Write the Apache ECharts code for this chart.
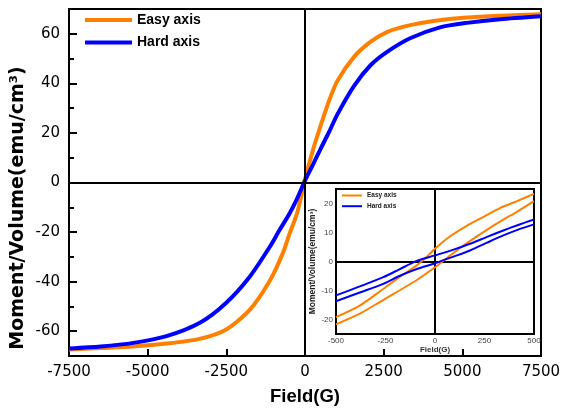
<!DOCTYPE html>
<html>
<head>
<meta charset="utf-8">
<script src="https://cdn.jsdelivr.net/npm/echarts@6/dist/echarts.min.js"></script>
<style>html,body{margin:0;padding:0;background:#fff}#c{width:564px;height:412px}</style>
</head>
<body>
<div id="c"></div>
<script>
// ---- Main plot data (Field in G, Moment/Volume in emu/cm^3) ----
const easyField  = [-7500,-6500,-5500,-4400,-3350,-2500,-1750,-1100,-700,-500,-250,0,250,500,750,1030,1560,2090,2620,3340,4080,5140,6200,7500];
const easyMoment = [-67.4,-66.8,-66.2,-65.0,-63.1,-59.3,-51.3,-39.2,-28.4,-21.0,-12.3,1.2,13.0,23.0,32.5,41.0,50.7,56.8,60.8,63.5,65.2,66.6,67.3,67.9];
const hardField  = [-7500,-6500,-5450,-4400,-3340,-2510,-1750,-1110,-800,-500,-250,0,250,500,750,1030,1560,2090,2620,3340,4290,5140,6200,7500];
const hardMoment = [-67.0,-66.2,-64.7,-62.0,-56.6,-48.6,-37.9,-25.8,-19.0,-12.7,-6.5,0.75,7.1,13.7,20.0,27.5,39.0,47.4,52.8,58.2,62.6,64.4,65.9,67.1];

// ---- Inset loop data ----
const easyUpField  = [500,420,330,250,160,75,0,-60,-110,-180,-260,-380,-500];
const easyUpMoment = [23.3,21.0,18.5,15.6,12.3,8.6,4.4,0.4,-2.2,-5.4,-9.4,-15.2,-19.2];
const easyLoField  = [-500,-380,-260,-180,-90,0,60,120,180,260,330,420,500];
const easyLoMoment = [-21.7,-18.0,-13.2,-10.0,-6.3,-2.0,1.2,4.3,7.2,10.8,13.8,17.4,20.8];
const hardUpField  = [500,420,345,260,177,90,0,-92,-180,-261,-380,-500];
const hardUpMoment = [14.5,12.6,10.7,8.4,6.1,4.0,2.1,0.2,-2.7,-5.4,-8.6,-11.7];
const hardLoField  = [-500,-380,-261,-180,-92,0,90,177,260,345,420,500];
const hardLoMoment = [-13.7,-10.7,-7.7,-5.0,-2.6,-0.6,1.6,3.8,6.4,9.0,11.0,12.8];

// ---- Tick labels ----
const mainXTicks = [-7500,-5000,-2500,0,2500,5000,7500];
const mainYLabels = [-60,-40,-20,0,20,40,60];
const mainYMinor = [-50,-30,-10,10,30,50];
const insetXTicks = [-500,-250,0,250,500];
const insetYLabels = [-20,-10,0,10,20];

const seriesNames = ['Easy axis','Hard axis'];
const ORANGE = '#ff8000', BLUE = '#0000ff';

const pairs = (xs, ys) => xs.map((x, i) => [x, ys[i]]);
const plain = (v) => String(v);
const zeroLines = (w) => ({
  silent: true, symbol: ['none','none'], label: {show: false},
  lineStyle: {color: '#000', width: w, type: 'solid'},
  emphasis: {disabled: true},
  data: [{xAxis: 0}, {yAxis: 0}]
});
const lineSeries = (name, xi, yi, data, color, width, z, extra) => Object.assign({
  name, type: 'line', xAxisIndex: xi, yAxisIndex: yi, data,
  smooth: 0.25, showSymbol: false, symbol: 'none',
  color, lineStyle: {width, color}, z
}, extra || {});

const chart = echarts.init(document.getElementById('c'), null, {renderer: 'canvas'});
chart.setOption({
  animation: false,
  backgroundColor: '#fff',
  grid: [
    {left: 69, right: 23, top: 9, bottom: 56, show: true, borderColor: '#000', borderWidth: 2, backgroundColor: '#fff'},
    {left: 336, right: 30, top: 189, bottom: 78, show: true, borderColor: '#000', borderWidth: 2, backgroundColor: '#fff', z: 5}
  ],
  legend: [
    {data: seriesNames, orient: 'vertical', left: 85, top: 13, padding: 0, icon: 'rect',
     itemWidth: 47, itemHeight: 4, itemGap: 8.6,
     textStyle: {fontFamily: 'Liberation Sans', fontWeight: 'bold', fontSize: 14, color: '#000', lineHeight: 14}},
    {data: seriesNames, orient: 'vertical', left: 342, top: 192, padding: 0, icon: 'rect',
     itemWidth: 20, itemHeight: 2, itemGap: 3.7, z: 10,
     textStyle: {fontFamily: 'Liberation Sans', fontWeight: 'bold', fontSize: 6.5, color: '#222', lineHeight: 7}}
  ],
  xAxis: [
    {type: 'value', gridIndex: 0, min: -7500, max: 7500, interval: 2500,
     axisLine: {show: true, onZero: false, lineStyle: {color: '#000', width: 2}},
     axisTick: {show: true, inside: true, length: 7, lineStyle: {color: '#000', width: 2}},
     axisLabel: {fontFamily: 'DejaVu Sans', fontSize: 15, color: '#000', margin: 9,
                 customValues: mainXTicks, formatter: plain},
     splitLine: {show: false},
     name: 'Field(G)', nameLocation: 'middle', nameGap: 31,
     nameTextStyle: {fontFamily: 'Liberation Sans', fontWeight: 'bold', fontSize: 18.5, color: '#000'}},
    {type: 'value', gridIndex: 1, min: -500, max: 500, interval: 250,
     axisLine: {show: true, onZero: false, lineStyle: {color: '#000', width: 2}},
     axisTick: {show: true, inside: true, length: 3, lineStyle: {color: '#000', width: 1.5}},
     minorTick: {show: true, splitNumber: 2, length: 3, lineStyle: {color: '#000', width: 1.5}},
     axisLabel: {fontFamily: 'Liberation Sans', fontSize: 8, color: '#444', margin: 3,
                 customValues: insetXTicks, formatter: plain},
     splitLine: {show: false}, minorSplitLine: {show: false},
     name: 'Field(G)', nameLocation: 'middle', nameGap: 12,
     nameTextStyle: {fontFamily: 'Liberation Sans', fontWeight: 'bold', fontSize: 8, color: '#333'}}
  ],
  yAxis: [
    {type: 'value', gridIndex: 0, min: -70, max: 70, position: 'left',
     axisLine: {show: true, onZero: false, lineStyle: {color: '#000', width: 2}},
     axisTick: {show: true, inside: true, length: 8, lineStyle: {color: '#000', width: 2}, customValues: mainYLabels},
     axisLabel: {fontFamily: 'DejaVu Sans', fontSize: 15, color: '#000', margin: 9, customValues: mainYLabels, formatter: plain},
     splitLine: {show: false}},
    {type: 'value', gridIndex: 0, min: -70, max: 70, position: 'left', offset: 0,
     axisLine: {show: false, onZero: false},
     axisTick: {show: true, inside: true, length: 5, lineStyle: {color: '#000', width: 2}, customValues: mainYMinor},
     axisLabel: {show: false}, splitLine: {show: false}},
    {type: 'value', gridIndex: 1, min: -25, max: 25, interval: 5, position: 'left',
     axisLine: {show: true, onZero: false, lineStyle: {color: '#000', width: 2}},
     axisTick: {show: true, inside: true, length: 3, lineStyle: {color: '#000', width: 1.5}},
     axisLabel: {fontFamily: 'Liberation Sans', fontSize: 8, color: '#444', margin: 3,
                 customValues: insetYLabels, formatter: plain},
     splitLine: {show: false},
     name: 'Moment/Volume(emu/cm³)', nameLocation: 'middle', nameGap: 19,
     nameTextStyle: {fontFamily: 'Liberation Sans', fontWeight: 'bold', fontSize: 8.5, color: '#222'}}
  ],
  graphic: [
    {type: 'text', x: 18, y: 208, rotation: Math.PI / 2,
     style: {text: 'Moment/Volume(emu/cm³)', font: 'bold 19px "DejaVu Sans"', fill: '#000',
             align: 'center', verticalAlign: 'middle'}}
  ],
  series: [
    lineSeries(seriesNames[0], 0, 0, pairs(easyField, easyMoment), ORANGE, 4, 2, {markLine: zeroLines(2)}),
    lineSeries(seriesNames[1], 0, 0, pairs(hardField, hardMoment), BLUE, 4, 3),
    lineSeries(seriesNames[0], 1, 2, pairs(easyUpField, easyUpMoment), ORANGE, 2, 6, {markLine: zeroLines(2)}),
    lineSeries(seriesNames[0], 1, 2, pairs(easyLoField, easyLoMoment), ORANGE, 2, 6),
    lineSeries(seriesNames[1], 1, 2, pairs(hardUpField, hardUpMoment), BLUE, 2, 7),
    lineSeries(seriesNames[1], 1, 2, pairs(hardLoField, hardLoMoment), BLUE, 2, 7)
  ]
});
</script>
</body>
</html>
